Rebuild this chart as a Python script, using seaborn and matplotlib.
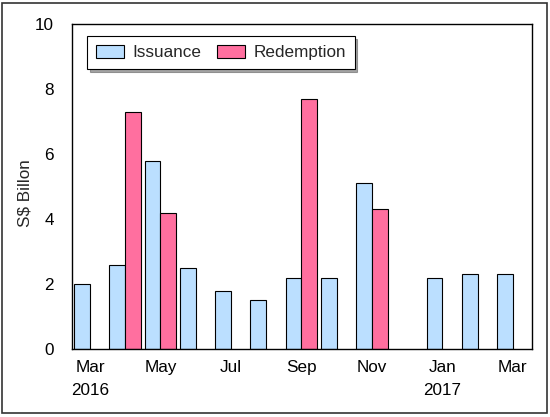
import pandas as pd
import numpy as np
import matplotlib
matplotlib.use("Agg")
import matplotlib.pyplot as plt
import seaborn as sns
from matplotlib.patches import Rectangle

# monthly values, S$ billion (Mar 2016 .. Mar 2017)
months = ["Mar 2016", "Apr 2016", "May 2016", "Jun 2016", "Jul 2016", "Aug 2016",
          "Sep 2016", "Oct 2016", "Nov 2016", "Dec 2016", "Jan 2017", "Feb 2017", "Mar 2017"]
issuance = [2.0, 2.6, 5.8, 2.5, 1.8, 1.5, 2.2, 2.2, 5.1, np.nan, 2.2, 2.3, 2.3]
redemption = [np.nan, 7.3, 4.2, np.nan, np.nan, np.nan, 7.7, np.nan, 4.3, np.nan, np.nan, np.nan, np.nan]
tick_labels = ["Mar\n2016", "", "May", "", "Jul", "", "Sep", "", "Nov", "", "Jan\n2017", "", "Mar"]

df = pd.concat([
    pd.DataFrame({"month": months, "value": issuance, "series": "Issuance"}),
    pd.DataFrame({"month": months, "value": redemption, "series": "Redemption"}),
]).dropna()

sns.set_style("white")
plt.rcParams["font.family"] = ["Liberation Sans", "DejaVu Sans"]
fs = 12.3

fig = plt.figure(figsize=(5.5, 4.17), dpi=100)
ax = fig.add_axes([0.131, 0.163, 0.836, 0.779])

palette = {"Issuance": "#BBDFFF", "Redemption": "#FF6F9F"}
sns.barplot(data=df, x="month", y="value", hue="series", order=months,
            hue_order=["Issuance", "Redemption"], palette=palette,
            width=0.9, edgecolor="black", linewidth=0.8, saturation=1,
            ax=ax)

ax.set_xlim(-0.51, 12.54)
ax.set_ylim(0, 10)
ax.set_yticks(range(0, 11, 2))
ax.set_xticks(range(len(months)))
ax.set_xticklabels(tick_labels, linespacing=1.65)
ax.set_xlabel("")
ax.set_ylabel("S$ Billon", fontsize=fs)
ax.yaxis.set_label_coords(-0.085, 0.48)

ax.tick_params(axis="both", direction="out", width=0.8, colors="black", labelsize=fs)
ax.tick_params(axis="x", pad=5, length=3)
ax.tick_params(axis="y", pad=9, length=4)
for s in ax.spines.values():
    s.set_visible(True)
    s.set_color("black")
    s.set_linewidth(1.0)

leg = ax.legend(loc="upper left", bbox_to_anchor=(0.033, 0.963), borderaxespad=0,
                ncol=2, frameon=True, fancybox=False, shadow=True,
                edgecolor="black", fontsize=fs, handlelength=1.65, handleheight=0.85,
                columnspacing=0.9, handletextpad=0.5, borderpad=0.5)
leg.get_frame().set_linewidth(0.8)
leg.get_frame().set_alpha(1)
for h in leg.legend_handles:
    h.set_edgecolor("black")
    h.set_linewidth(0.8)

# outer border round the whole chart
fig.patches.append(Rectangle((0.004, 0.009), 0.991, 0.984, transform=fig.transFigure,
                             fill=False, edgecolor="#333333", linewidth=1.2))

fig.savefig("out.png", dpi=100)
